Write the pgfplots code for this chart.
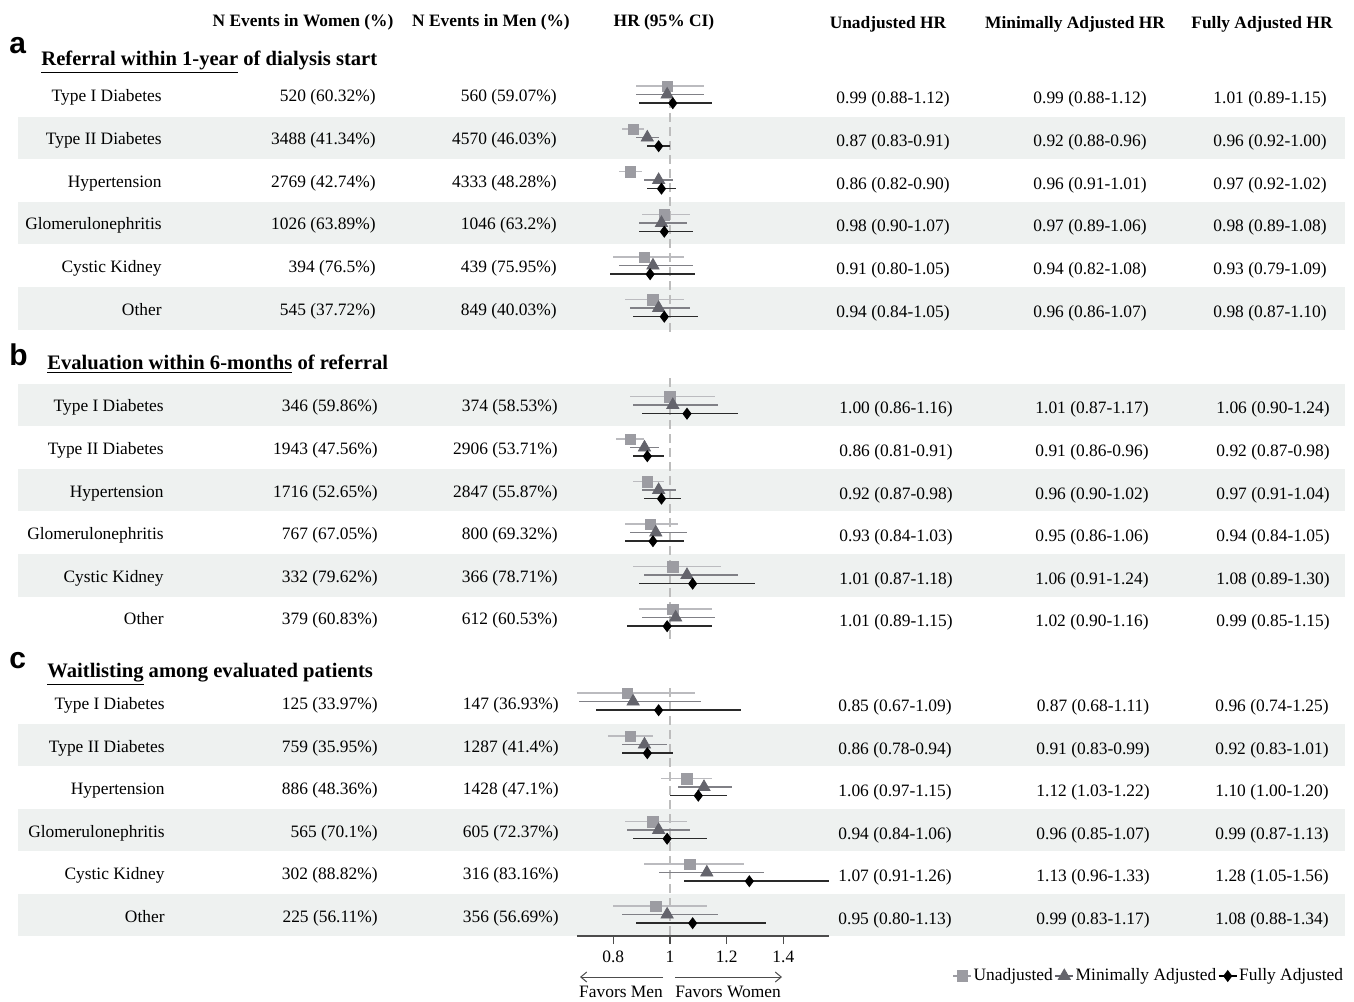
\documentclass[border=0pt]{standalone}
\usepackage{fontspec}
\setmainfont{Liberation Serif}
\setsansfont{Liberation Sans}
\usepackage{pgfplots}
\usepackage{pgfplotstable}
\pgfplotsset{compat=1.18}
\usetikzlibrary{arrows.meta}
\definecolor{stripe}{HTML}{EEF1F0}
\definecolor{ucol}{HTML}{9C9CA2}
\definecolor{uline}{HTML}{BBBBBF}
\definecolor{mcol}{HTML}{64646C}
\definecolor{mline}{HTML}{808086}
\definecolor{fcol}{HTML}{000000}
\definecolor{fline}{HTML}{2A2A2A}
\definecolor{dashc}{HTML}{BDBDBD}
\newcommand\tf{\fontsize{8.7}{10}\selectfont}
\pgfplotsset{legimg/.style={legend image code/.code={%
  \draw[#1,line width=0.8pt] (0pt,0pt)--(9pt,0pt);
  \draw[##1] plot coordinates {(4.5pt,0pt)};}}}

\pgfplotstableread{
c hu lu uu hm lm um hf lf uf
94.5 0.99 0.88 1.12 0.99 0.88 1.12 1.01 0.89 1.15
137.5 0.87 0.83 0.91 0.92 0.88 0.96 0.96 0.92 1.00
180 0.86 0.82 0.90 0.96 0.91 1.01 0.97 0.92 1.02
223 0.98 0.90 1.07 0.97 0.89 1.06 0.98 0.89 1.08
265.5 0.91 0.80 1.05 0.94 0.82 1.08 0.93 0.79 1.09
308 0.94 0.84 1.05 0.96 0.86 1.07 0.98 0.87 1.10
405 1.00 0.86 1.16 1.01 0.87 1.17 1.06 0.90 1.24
447.5 0.86 0.81 0.91 0.91 0.86 0.96 0.92 0.87 0.98
490 0.92 0.87 0.98 0.96 0.90 1.02 0.97 0.91 1.04
532.5 0.93 0.84 1.03 0.95 0.86 1.06 0.94 0.84 1.05
575 1.01 0.87 1.18 1.06 0.91 1.24 1.08 0.89 1.30
617.5 1.01 0.89 1.15 1.02 0.90 1.16 0.99 0.85 1.15
701.5 0.85 0.67 1.09 0.87 0.68 1.11 0.96 0.74 1.25
744.5 0.86 0.78 0.94 0.91 0.83 0.99 0.92 0.83 1.01
787 1.06 0.97 1.15 1.12 1.03 1.22 1.10 1.00 1.20
830 0.94 0.84 1.06 0.96 0.85 1.07 0.99 0.87 1.13
872.5 1.07 0.91 1.26 1.13 0.96 1.33 1.28 1.05 1.56
914.5 0.95 0.80 1.13 0.99 0.83 1.17 1.08 0.88 1.34
}\forestdata

\newcommand\prow[7]{%
  \node[anchor=base east] at (\labx,#1+6) {#2};
  \node[anchor=base east] at (\wx,#1+6) {#3};
  \node[anchor=base east] at (\mx,#1+6) {#4};
  \node[anchor=base] at (\ux,#1+8) {#5};
  \node[anchor=base] at (\mmx,#1+8) {#6};
  \node[anchor=base] at (\fx,#1+8) {#7};
}

\begin{document}
\begin{tikzpicture}
\begin{scope}[x=0.5pt,y=-0.5pt,every node/.style={inner sep=0pt,font=\tf}]
\path (0,0) rectangle (1354,1001);
\foreach \a/\b in {117/159,202/244,287/330,384/426,469/511,554/597,724/766,809/851,894/936}{
  \fill[stripe] (18,\a) rectangle (1345,\b);}
\coordinate (axpos) at (577,936);
% headers
\node[anchor=base,font=\tf\bfseries] at (303,26) {N Events in Women (\%)};
\node[anchor=base,font=\tf\bfseries] at (491,26) {N Events in Men (\%)};
\node[anchor=base,font=\tf\bfseries] at (664,26) {HR (95\% CI)};
\node[anchor=base,font=\tf\bfseries] at (888,28) {Unadjusted HR};
\node[anchor=base,font=\tf\bfseries] at (1075,28) {Minimally Adjusted HR};
\node[anchor=base,font=\tf\bfseries] at (1262,28) {Fully Adjusted HR};
% panel letters and titles
\node[anchor=base west,font=\sffamily\bfseries\fontsize{15}{15}\selectfont] at (9,54) {a};
\node[anchor=base west,font=\sffamily\bfseries\fontsize{15}{15}\selectfont] at (9,365) {b};
\node[anchor=base west,font=\sffamily\bfseries\fontsize{15}{15}\selectfont] at (9,668) {c};
\node[anchor=base west,font=\bfseries\fontsize{10.3}{12}\selectfont] at (41,65) {\underline{Referral within 1-year} of dialysis start};
\node[anchor=base west,font=\bfseries\fontsize{10.3}{12}\selectfont] at (47,369) {\underline{Evaluation within 6-months} of referral};
\node[anchor=base west,font=\bfseries\fontsize{10.3}{12}\selectfont] at (47,677) {\underline{Waitlisting} among evaluated patients};
% panel a
\def\labx{162}\def\wx{376}\def\mx{557}\def\ux{893}\def\mmx{1090}\def\fx{1270}
\prow{95}{Type I Diabetes}{520 (60.32\%)}{560 (59.07\%)}{0.99 (0.88-1.12)}{0.99 (0.88-1.12)}{1.01 (0.89-1.15)}
\prow{138}{Type II Diabetes}{3488 (41.34\%)}{4570 (46.03\%)}{0.87 (0.83-0.91)}{0.92 (0.88-0.96)}{0.96 (0.92-1.00)}
\prow{181}{Hypertension}{2769 (42.74\%)}{4333 (48.28\%)}{0.86 (0.82-0.90)}{0.96 (0.91-1.01)}{0.97 (0.92-1.02)}
\prow{223}{Glomerulonephritis}{1026 (63.89\%)}{1046 (63.2\%)}{0.98 (0.90-1.07)}{0.97 (0.89-1.06)}{0.98 (0.89-1.08)}
\prow{266}{Cystic Kidney}{394 (76.5\%)}{439 (75.95\%)}{0.91 (0.80-1.05)}{0.94 (0.82-1.08)}{0.93 (0.79-1.09)}
\prow{309}{Other}{545 (37.72\%)}{849 (40.03\%)}{0.94 (0.84-1.05)}{0.96 (0.86-1.07)}{0.98 (0.87-1.10)}
% panel b
\def\labx{164}\def\wx{378}\def\mx{558}\def\ux{896}\def\mmx{1092}\def\fx{1273}
\prow{405}{Type I Diabetes}{346 (59.86\%)}{374 (58.53\%)}{1.00 (0.86-1.16)}{1.01 (0.87-1.17)}{1.06 (0.90-1.24)}
\prow{448}{Type II Diabetes}{1943 (47.56\%)}{2906 (53.71\%)}{0.86 (0.81-0.91)}{0.91 (0.86-0.96)}{0.92 (0.87-0.98)}
\prow{491}{Hypertension}{1716 (52.65\%)}{2847 (55.87\%)}{0.92 (0.87-0.98)}{0.96 (0.90-1.02)}{0.97 (0.91-1.04)}
\prow{533}{Glomerulonephritis}{767 (67.05\%)}{800 (69.32\%)}{0.93 (0.84-1.03)}{0.95 (0.86-1.06)}{0.94 (0.84-1.05)}
\prow{576}{Cystic Kidney}{332 (79.62\%)}{366 (78.71\%)}{1.01 (0.87-1.18)}{1.06 (0.91-1.24)}{1.08 (0.89-1.30)}
\prow{618}{Other}{379 (60.83\%)}{612 (60.53\%)}{1.01 (0.89-1.15)}{1.02 (0.90-1.16)}{0.99 (0.85-1.15)}
% panel c
\def\labx{165}\def\wx{378}\def\mx{559}\def\ux{895}\def\mmx{1093}\def\fx{1272}
\prow{703}{Type I Diabetes}{125 (33.97\%)}{147 (36.93\%)}{0.85 (0.67-1.09)}{0.87 (0.68-1.11)}{0.96 (0.74-1.25)}
\prow{746}{Type II Diabetes}{759 (35.95\%)}{1287 (41.4\%)}{0.86 (0.78-0.94)}{0.91 (0.83-0.99)}{0.92 (0.83-1.01)}
\prow{788}{Hypertension}{886 (48.36\%)}{1428 (47.1\%)}{1.06 (0.97-1.15)}{1.12 (1.03-1.22)}{1.10 (1.00-1.20)}
\prow{831}{Glomerulonephritis}{565 (70.1\%)}{605 (72.37\%)}{0.94 (0.84-1.06)}{0.96 (0.85-1.07)}{0.99 (0.87-1.13)}
\prow{873}{Cystic Kidney}{302 (88.82\%)}{316 (83.16\%)}{1.07 (0.91-1.26)}{1.13 (0.96-1.33)}{1.28 (1.05-1.56)}
\prow{916}{Other}{225 (56.11\%)}{356 (56.69\%)}{0.95 (0.80-1.13)}{0.99 (0.83-1.17)}{1.08 (0.88-1.34)}
% favors arrows
\draw[black!70,line width=0.5pt,-{Straight Barb[length=3pt,width=5pt]}] (663,977) -- (580,977);
\draw[black!70,line width=0.5pt,-{Straight Barb[length=3pt,width=5pt]}] (675,977) -- (782,977);
\node[anchor=base] at (621,997) {Favors Men};
\node[anchor=base] at (728,997) {Favors Women};
\end{scope}

\begin{axis}[
  at={(axpos)}, anchor=south west,
  width=126pt, height=438pt, scale only axis,
  xmin=0.672, xmax=1.561, ymin=-936, ymax=-60,
  axis x line*=bottom, axis y line=none, ytick=\empty,
  x axis line style={black!70,line width=0.6pt},
  xtick={0.8,1,1.2,1.4}, xticklabels={0.8,1,1.2,1.4},
  major tick length=4pt, tick align=outside,
  tick style={black!70,line width=0.6pt},
  xticklabel style={font=\tf,text=black},
  legend columns=3,
  legend style={at={(axis description cs:3.048,-0.0457)}, anchor=east,
    draw=none, fill=none, font=\tf, inner sep=0pt,
    /tikz/every even column/.append style={column sep=0pt},
    nodes={inner sep=0.8pt}},
]
\draw[dashc,line width=1.1pt,dash pattern=on 4.5pt off 2.5pt] (axis cs:1,-85) -- (axis cs:1,-333);
\draw[dashc,line width=1.1pt,dash pattern=on 4.5pt off 2.5pt] (axis cs:1,-378) -- (axis cs:1,-640);
\draw[dashc,line width=1.1pt,dash pattern=on 4.5pt off 2.5pt] (axis cs:1,-688) -- (axis cs:1,-936);

\addplot[only marks, mark=square*, mark size=2.6pt, color=ucol, legimg=ucol,
  error bars/.cd, x dir=both, x explicit, error mark=none,
  error bar style={line width=0.75pt,color=uline}]
  table[x=hu, y expr=-\thisrow{c}+8.3,
        x error plus expr=\thisrow{uu}-\thisrow{hu},
        x error minus expr=\thisrow{hu}-\thisrow{lu}] {\forestdata};
\addlegendentry{Unadjusted}

\addplot[only marks, mark=triangle*, mark size=3.5pt, color=mcol, legimg=mcol,
  error bars/.cd, x dir=both, x explicit, error mark=none,
  error bar style={line width=0.75pt,color=mline}]
  table[x=hm, y expr=-\thisrow{c},
        x error plus expr=\thisrow{um}-\thisrow{hm},
        x error minus expr=\thisrow{hm}-\thisrow{lm}] {\forestdata};
\addlegendentry{Minimally Adjusted}

\addplot[only marks, mark=diamond*, mark size=2.7pt, color=fcol, legimg=fcol,
  error bars/.cd, x dir=both, x explicit, error mark=none,
  error bar style={line width=0.75pt,color=fline}]
  table[x=hf, y expr=-\thisrow{c}-8.7,
        x error plus expr=\thisrow{uf}-\thisrow{hf},
        x error minus expr=\thisrow{hf}-\thisrow{lf}] {\forestdata};
\addlegendentry{Fully Adjusted}
\end{axis}
\end{tikzpicture}
\end{document}
